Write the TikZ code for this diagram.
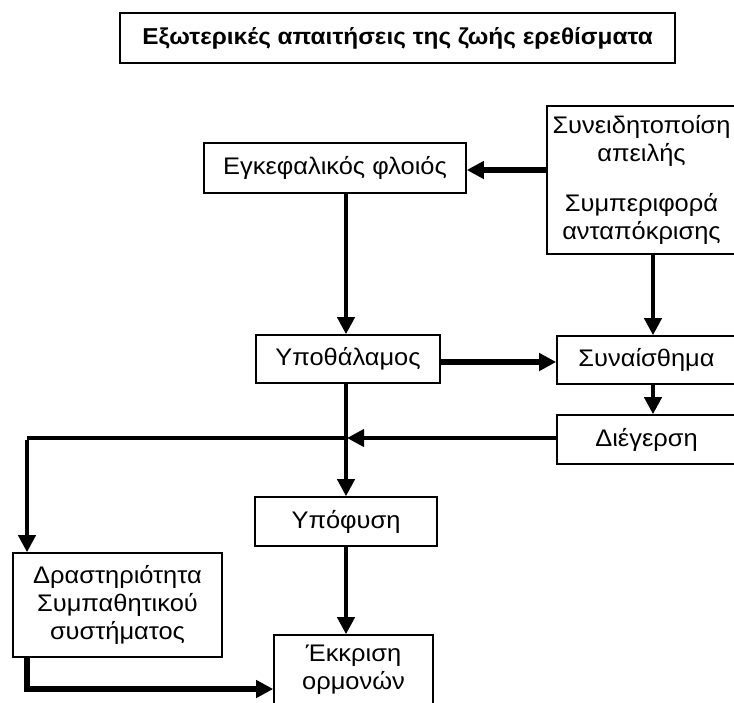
\documentclass[tikz,border=0pt]{standalone}
\usepackage{fontspec}
\setmainfont{Liberation Sans}[FakeStretch=1.06]
\usetikzlibrary{arrows.meta}
\begin{document}
\begin{tikzpicture}[x=1pt,y=-1pt,
  box/.style={draw=black,line width=1.6pt,inner sep=0pt,minimum width=#1,align=center,font=\fontsize{24}{28}\selectfont},
  conn/.style={line width=4pt,-{Triangle[length=17pt,width=17pt]}},
  thickconn/.style={line width=6pt,-{Triangle[length=17pt,width=17pt]}},
  plain/.style={line width=4pt}]
\useasboundingbox (0,0) rectangle (734,702);
\fill[white] (0,0) rectangle (734,702);
\node[box=555pt,minimum height=50pt,font=\bfseries\fontsize{23}{28}\selectfont] (title) at (397.5,38) {Εξωτερικές απαιτήσεις της ζωής ερεθίσματα};
\node[box=262pt,minimum height=50pt] (cortex) at (335,168) {Εγκεφαλικός φλοιός};
\node[box=189pt,minimum height=148pt] (aware) at (641.5,180) {Συνειδητοποίση\\απειλής\\[22pt]Συμπεριφορά\\ανταπόκρισης};
\node[box=184pt,minimum height=48pt] (hyp) at (348,359) {Υποθάλαμος};
\node[box=179pt,minimum height=48pt] (emo) at (646.5,360) {Συναίσθημα};
\node[box=179pt,minimum height=49pt] (arousal) at (646.5,439.5) {Διέγερση};
\node[box=182pt,minimum height=49pt] (pit) at (346,521.5) {Υπόφυση};
\node[box=209pt,minimum height=104pt] (drast) at (117.5,605) {Δραστηριότητα\\Συμπαθητικού\\συστήματος};
\node[box=159pt,minimum height=70pt] (horm) at (353.5,670) {Έκκριση\\ορμονών};
\coordinate (cx) at (346,0);
\coordinate (rx) at (653,0);
\coordinate (lx) at (27,0);
\coordinate (junc) at (346,438);
\coordinate (corner) at (27,438);
\coordinate (bot) at (27,689);
\draw[thickconn] (aware.west |- 0,170) -- (cortex.east |- 0,170);
\draw[conn] (cortex.south -| cx) -- (hyp.north -| cx);
\draw[conn] (aware.south -| rx) -- (emo.north -| rx);
\draw[thickconn] (hyp.east |- 0,362) -- (emo.west |- 0,362);
\draw[conn] (emo.south -| rx) -- (arousal.north -| rx);
\draw[conn] (hyp.south -| cx) -- (pit.north -| cx);
\draw[conn,shorten >=-1pt] (arousal.west |- junc) -- ([xshift=2pt]junc);
\draw[plain] ([xshift=2pt]junc) -- (corner);
\draw[conn] ([yshift=-2pt]corner) -- (drast.north -| lx);
\draw[conn] (pit.south -| cx) -- (horm.north -| cx);
\draw[line width=6pt] (drast.south -| lx) -- ([yshift=-3pt]bot);
\draw[thickconn] ([xshift=-3pt]bot) -- (horm.west |- bot);
\end{tikzpicture}
\end{document}
